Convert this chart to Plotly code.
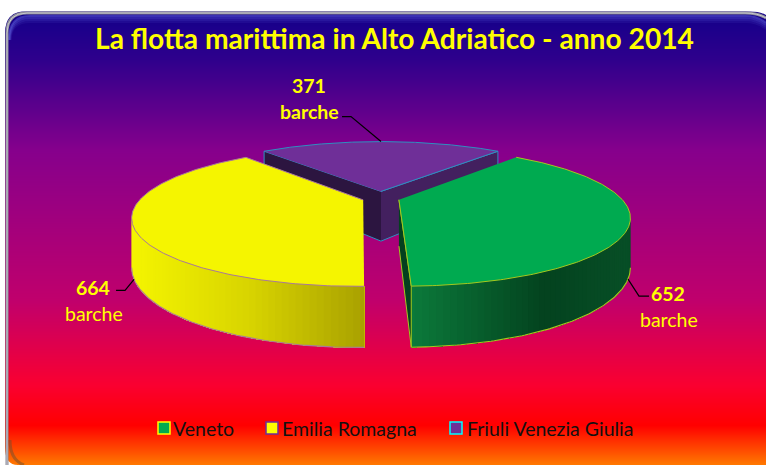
import numpy as np
import plotly.graph_objects as go

# ---- data ----
categories = ["Veneto", "Emilia Romagna", "Friuli Venezia Giulia"]
values = [652, 664, 371]
value_labels = ["652", "664", "371"]
unit_label = "barche"
title_text = "La flotta marittima in Alto Adriatico - anno 2014"

# ---- styles ----
top_colors = ["#00aa50", "#f5f500", "#6f2f98"]
outline_colors = ["#a4c81e", "#a9789a", "#2f8fc0"]
legend_fill = ["#00aa50", "#ffff00", "#6f2f98"]
legend_line = ["#ffff00", "#6f2f98", "#00ffff"]
rim_stops = [
    [(0.0, "#0c7c3c"), (0.62, "#04431f"), (1.0, "#084f27")],
    [(0.0, "#f5f500"), (0.5, "#d8d400"), (1.0, "#a8a000")],
    [(0.0, "#43205f"), (1.0, "#43205f")],
]
wall_colors = ["#04401e", "#8f8a00", None]
explode = [0.085, 0.085, 0.105]
depths = [46, 46, 51]
bg_y = [14, 60, 150, 300, 385, 425, 465]
bg_c = ["#14008a", "#2f008c", "#86008c", "#c0006c", "#fa0030", "#ff0000", "#ff7a00"]

W, H = 766, 465
XC, Y0, R, HV, P = 381, 198, 222, 64.6, 0.24


def project(u, v, drop=0.0):
    s = 1 / (1 - P * v)
    return XC + R * u * s, Y0 + HV * v * s + drop * s


def hex2rgb(c):
    return np.array([int(c[i:i + 2], 16) for i in (1, 3, 5)], float)


def ramp(stops, f):
    for (a, ca), (b, cb) in zip(stops, stops[1:]):
        if f <= b:
            t = (f - a) / (b - a) if b > a else 0
            m = hex2rgb(ca) * (1 - t) + hex2rgb(cb) * t
            return "rgb(%d,%d,%d)" % tuple(m)
    return stops[-1][1]


# slice angles, clockwise from 12 o'clock, Friuli centred at the top
total = sum(values)
sweep = [360 * v / total for v in values]
start_v = sweep[2] / 2
spans = [(start_v, start_v + sweep[0]),
         (start_v + sweep[0], start_v + sweep[0] + sweep[1]),
         (360 - sweep[2] / 2, 360 + sweep[2] / 2)]

fig = go.Figure()

# background gradient
ys = np.arange(12, H + 2, 1.0)
zcol = np.array(ys)
scale = [[(y - bg_y[0]) / (bg_y[-1] - bg_y[0]), c] for y, c in zip(bg_y, bg_c)]
fig.add_trace(go.Heatmap(x=[0, W + 2], y=ys, z=np.column_stack([zcol, zcol]).tolist(),
                         zmin=bg_y[0], zmax=bg_y[-1], colorscale=scale,
                         showscale=False, hoverinfo="skip"))


def poly(xs, ys, fill, line=None, width=1.0, closed=True):
    fig.add_trace(go.Scatter(x=list(xs), y=list(ys), mode="lines",
                             fill="toself" if closed else None,
                             fillcolor=fill if closed else None,
                             line=dict(color=line or fill, width=width),
                             showlegend=False, hoverinfo="skip"))


def slice_geom(i, n=200):
    a0, a1 = spans[i]
    mid = np.radians((a0 + a1) / 2)
    du, dv = explode[i] * np.sin(mid), -explode[i] * np.cos(mid)
    if i == 2:
        du, dv = 0.0, -explode[i]
    th = np.radians(np.linspace(a0, a1, n))
    return du, dv, np.sin(th) + du, -np.cos(th) + dv


for i in [2, 0, 1]:
    du, dv, u, v = slice_geom(i)
    d = depths[i]
    ax, ay = project(du, dv)
    axd, ayd = project(du, dv, d)
    rx, ry = project(u, v)
    rxd, ryd = project(u, v, d)
    if i == 2:
        poly([ax, rx[0], rxd[0], axd], [ay, ry[0], ryd[0], ayd], "#2c1540", outline_colors[2])
        poly([ax, rx[-1], rxd[-1], axd], [ay, ry[-1], ryd[-1], ayd], "#43205f", outline_colors[2])
    else:
        # visible rim: from the widest point of the slice to the front tip
        ext = int(np.argmax(rxd)) if i == 0 else int(np.argmin(rxd))
        sel = np.arange(ext, len(rxd)) if i == 0 else np.arange(0, ext + 1)
        if i == 1:
            sel = sel[::-1]  # paint from the outer edge inwards on both slices
        xs, ysf, xsd, ysd = rx[sel], ry[sel], rxd[sel], ryd[sel]
        lo, hi = xs.min(), xs.max()
        n = len(xs)
        # colour bands painted over each other, each reaching to the end of the rim
        # so that no background shows through between neighbouring bands
        order = list(range(0, n - 1, 2))
        for a in order:
            col = ramp(rim_stops[i], (xs[a] - lo) / (hi - lo))
            bx = list(xs[a:]) + list(xsd[a:][::-1])
            by = list(ysf[a:]) + list(ysd[a:][::-1])
            poly(bx, by, col, width=0)
        poly(xsd, ysd, None, outline_colors[i], 1.1, closed=False)
        if i == 0:
            # wall from centre to the front tip, seen edge-on
            poly([ax, rx[-1], rxd[-1], axd], [ay, ry[-1], ryd[-1], ayd], wall_colors[0], outline_colors[0])
    poly(list(rx) + [ax], list(ry) + [ay], top_colors[i], outline_colors[i], 1.0)

# leader lines anchored on the slices' rims
leader_offsets = [
    [(0, 0), (11, 17), (21, 17)],
    [(0, 0), (-9, 11), (-18, 11)],
    [(0, 0), (-30, -25), (-39, -25)],
]
leader_anchor = [(113, 1.0), (247, 1.0), (360, 0.0)]
for idx, ((ang, drop), off) in enumerate(zip(leader_anchor, leader_offsets)):
    du, dv, _, _ = slice_geom(idx)
    t = np.radians(ang)
    x0, y0 = project(np.sin(t) + du, -np.cos(t) + dv, drop * depths[idx])
    fig.add_trace(go.Scatter(x=[x0 + o[0] for o in off], y=[y0 + o[1] for o in off], mode="lines",
                             line=dict(color="#000000", width=1.2), showlegend=False, hoverinfo="skip"))

# legend as real text + swatch
legend_x = [164, 272, 456]
legend_y = 428
for name, fc, lc, lx in zip(categories, legend_fill, legend_line, legend_x):
    fig.add_trace(go.Scatter(x=[lx], y=[legend_y], mode="markers", name=name,
                             marker=dict(symbol="square", size=12, color=fc, line=dict(color=lc, width=1.5)),
                             showlegend=False, hoverinfo="skip"))
legend_tx = [171, 280, 465]
annotations = []
for name, tx in zip(categories, legend_tx):
    annotations.append(dict(x=tx, y=legend_y, text=name, xanchor="left", yanchor="middle", showarrow=False,
                            font=dict(family="Lato", size=19.5, color="#111111")))

F = "Lato"
annotations.append(dict(x=394, y=38, text=title_text, showarrow=False, xanchor="center", yanchor="middle",
                        font=dict(family=F, size=28.2, color="#ffff00", weight="bold")))
label_pos = [(668, 293, 669, 319, "normal"), (93, 287, 94, 313, "normal"), (309, 85, 309, 111, "bold")]
for vl, (x1, y1, x2, y2, w) in zip(value_labels, label_pos):
    annotations.append(dict(x=x1, y=y1, text=vl, showarrow=False, font=dict(family=F, size=19.5, color="#ffff00", weight="bold")))
    annotations.append(dict(x=x2, y=y2, text=unit_label, showarrow=False, font=dict(family=F, size=19.5, color="#ffff00", weight=w)))

shapes = [
    # white outside the rounded frame
    dict(type="path", layer="above", line=dict(width=0), fillcolor="#ffffff",
         path="M0 0 L766 0 L766 15 Q760 11 745 11 L27 11 Q5 11 5 33 L5 447 Q5 465 18 465 L0 465 Z"),
]
for off, op in zip([3, 5, 7, 9], [0.55, 0.4, 0.25, 0.12]):
    shapes.append(dict(type="path", layer="above", opacity=op, line=dict(color="#5a5ad8", width=2),
                       path=f"M{8 + off * 0.3} 40 Q{8 + off * 0.3} {13 + off} 30 {13 + off} L745 {13 + off} Q758 {13 + off} 766 {20 + off}"))
shapes += [
    dict(type="path", layer="above", line=dict(color="#8c8c98", width=3),
         path="M7 465 L7 447 L7 33 Q7 13 27 13 L745 13 Q758 13 766 18"),
    dict(type="path", layer="above", line=dict(color="#d8d8e0", width=0.8),
         path="M7 465 L7 447 L7 33 Q7 13 27 13 L745 13 Q758 13 766 18"),
    dict(type="path", layer="above", opacity=0.5, line=dict(color="#705030", width=3),
         path="M10 440 Q10 460 24 465"),
]

fig.update_layout(
    width=W, height=H, margin=dict(l=0, r=0, t=0, b=0),
    paper_bgcolor="#ffffff", plot_bgcolor="#ffffff", showlegend=False,
    xaxis=dict(range=[0, W], visible=False, fixedrange=True),
    yaxis=dict(range=[H, 0], visible=False, fixedrange=True),
    annotations=annotations, shapes=shapes,
)
fig.write_html("out.html", config={"displayModeBar": False},
               post_script="document.body.style.margin='0';document.body.style.overflow='hidden';")
